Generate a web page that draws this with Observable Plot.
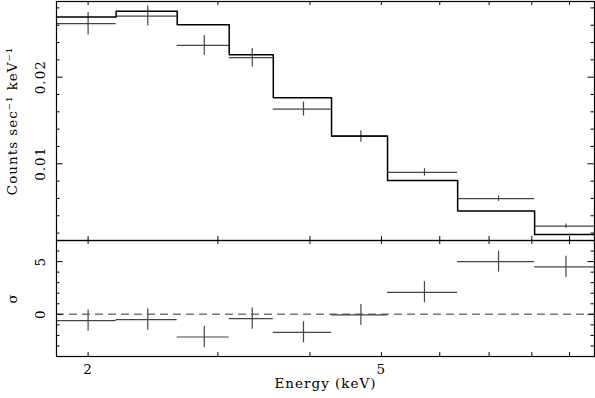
<!DOCTYPE html>
<html><head><meta charset="utf-8">
<script src="https://cdn.jsdelivr.net/npm/d3@7"></script>
<script src="https://cdn.jsdelivr.net/npm/@observablehq/plot@0.6"></script>
<style>
body{margin:0;background:#fff;}
#chart{position:relative;width:595px;height:398px;overflow:hidden;}
#chart svg{position:absolute;left:0;}
</style></head><body><div id="chart"></div>
<script>
// Energy bins (keV)
const binLo = [1.812, 2.183, 2.642, 3.108, 3.567, 4.279, 5.097, 6.345, 8.07];
const binHi = [2.183, 2.642, 3.108, 3.567, 4.279, 5.097, 6.345, 8.07, 9.73];
const binCenter = [2.00, 2.41, 2.875, 3.34, 3.92, 4.69, 5.72, 7.21, 8.90];
// Counts sec^-1 keV^-1
const counts   = [0.02618, 0.02706, 0.02367, 0.02225, 0.01632, 0.01316, 0.00901, 0.00597, 0.00281];
const countErr = [0.00130, 0.00115, 0.00115, 0.00107, 0.00081, 0.00066, 0.00043, 0.00031, 0.00025];
const model    = [0.02694, 0.02760, 0.02606, 0.02260, 0.01763, 0.01320, 0.00808, 0.00454, 0.00185];
// Residuals (sigma)
const residual    = [-0.60, -0.50, -2.15, -0.41, -1.71, -0.06, 2.09, 5.00, 4.50];
const residualErr = [1, 1, 1, 1, 1, 1, 1, 1, 1];
// Ticks
const xTickValues = [2, 3, 4, 5, 6, 7, 8, 9];
const xTickLabels = ["2", "5"];
const countMajor = [0.01, 0.02];
const countMinor = [0.002, 0.004, 0.006, 0.008, 0.012, 0.014, 0.016, 0.018, 0.022, 0.024, 0.026, 0.028];
const residMajor = [0, 5];
const residMinor = [-3, -2, -1, 1, 2, 3, 4, 6];
const xTitle = "Energy (keV)";
const yTitleTop = "Counts sec\u207B\u00B9 keV\u207B\u00B9";
const yTitleBottom = "\u03C3";

const W = 595, ML = 56, MR = 1;
const frameW = W - ML - MR;
const xDomain = [1.812, 9.73];
const font = {fontFamily: "'DejaVu Serif', serif", fontSize: "13.5px", letterSpacing: "1px", overflow: "visible", background: "transparent"};
const dataStroke = "#444";

const bins = binLo.map((lo, i) => ({lo, hi: binHi[i], c: binCenter[i], v: counts[i], e: countErr[i], m: model[i], r: residual[i], re: residualErr[i]}));
const steps = binLo.map((lo, i) => ({x: lo, y: model[i]})).concat([{x: binHi[binHi.length - 1], y: model[model.length - 1]}]);

function xTicks(fh) {
  return [
    Plot.tickX(xTickValues, {x: d => d, insetTop: fh - 4, stroke: "black", strokeWidth: 1}),
    Plot.tickX(xTickValues, {x: d => d, insetBottom: fh - 4, stroke: "black", strokeWidth: 1})
  ];
}
function yTicks(major, minor) {
  return [
    Plot.tickY(major, {y: d => d, insetRight: frameW - 6.5, stroke: "black"}),
    Plot.tickY(major, {y: d => d, insetLeft: frameW - 6.5, stroke: "black"}),
    Plot.tickY(minor, {y: d => d, insetRight: frameW - 3.5, stroke: "black"}),
    Plot.tickY(minor, {y: d => d, insetLeft: frameW - 3.5, stroke: "black"})
  ];
}
const rot = {frameAnchor: "left", rotate: -90, textAnchor: "middle", lineAnchor: "middle", fill: "black"};

// Top panel: frame from y=1 to y=240
const topH = 241, topFH = 239;
const topPlot = Plot.plot({
  width: W, height: topH, marginTop: 1, marginBottom: 1, marginLeft: ML, marginRight: MR,
  style: font,
  x: {type: "log", domain: xDomain, axis: null},
  y: {domain: [0.001143, 0.02874], axis: null},
  marks: [
    Plot.ruleY(bins, {y: "v", x1: "lo", x2: "hi", stroke: dataStroke, strokeWidth: 1.2}),
    Plot.ruleX(bins, {x: "c", y1: d => d.v - d.e, y2: d => d.v + d.e, stroke: dataStroke, strokeWidth: 1.2}),
    Plot.line(steps, {x: "x", y: "y", curve: "step-after", stroke: "black", strokeWidth: 1.5}),
    ...xTicks(topFH),
    ...yTicks(countMajor, countMinor),
    Plot.frame({stroke: "black", strokeWidth: 1.2}),
    Plot.text(countMajor, {...rot, y: d => d, text: d => d3.format(".2f")(d), dx: -16}),
    Plot.text([yTitleTop], {...rot, text: d => d, dx: -43.5})
  ]
});
topPlot.style.top = "0px";

// Bottom panel: frame from y=240 to y=356
const botH = 159, botFH = 116;
const bottomPlot = Plot.plot({
  width: W, height: botH, marginTop: 1, marginBottom: 42, marginLeft: ML, marginRight: MR,
  style: font,
  x: {type: "log", domain: xDomain, axis: null},
  y: {domain: [-4, 7], axis: null},
  marks: [
    Plot.ruleY([0], {y: d => d, stroke: "#777", strokeWidth: 1.5, strokeDasharray: "8,5"}),
    Plot.ruleY(bins, {y: "r", x1: "lo", x2: "hi", stroke: dataStroke, strokeWidth: 1.2}),
    Plot.ruleX(bins, {x: "c", y1: d => d.r - d.re, y2: d => d.r + d.re, stroke: dataStroke, strokeWidth: 1.2}),
    ...xTicks(botFH),
    ...yTicks(residMajor, residMinor),
    Plot.frame({stroke: "black", strokeWidth: 1.2}),
    Plot.text(residMajor, {...rot, y: d => d, text: d => String(d), dx: -16}),
    Plot.text([yTitleBottom], {...rot, text: d => d, dx: -43.5}),
    Plot.text(xTickLabels, {x: d => +d, text: d => d, frameAnchor: "bottom", lineAnchor: "middle", textAnchor: "middle", dy: 13.5, fill: "black"}),
    Plot.text([xTitle], {text: d => d, frameAnchor: "bottom", lineAnchor: "middle", textAnchor: "middle", dy: 27, fill: "black"})
  ]
});
bottomPlot.style.top = "239px";

const chart = document.getElementById("chart");
chart.appendChild(topPlot);
chart.appendChild(bottomPlot);
</script></body></html>
